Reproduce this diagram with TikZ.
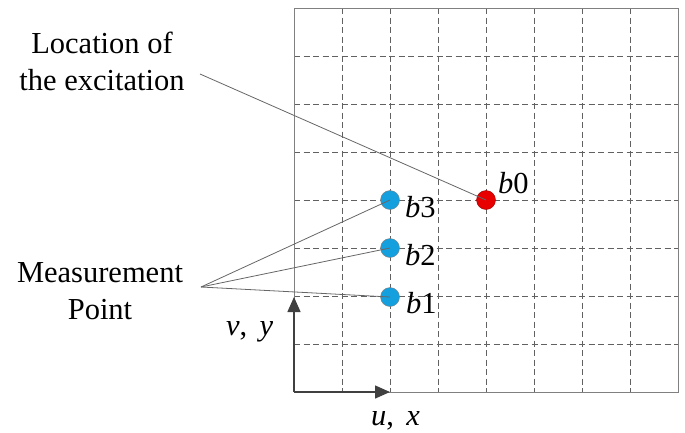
\documentclass[tikz,border=0pt]{standalone}
\usepackage{fontspec}
\setmainfont{Liberation Serif}
\usetikzlibrary{arrows.meta}

\definecolor{ptblue}{RGB}{20,160,222}
\definecolor{ptred}{RGB}{232,0,0}

\begin{document}
\begin{tikzpicture}[
    x=1bp, y=-1bp,
    >={Triangle[length=15bp, width=13bp]},
    gridln/.style={draw=black!62, line width=0.9bp, dash pattern=on 6bp off 3.5bp},
    frame/.style={draw=black!50, line width=1bp},
    axis/.style={->, draw=black!75, line width=1.4bp},
    lead/.style={draw=black!60, line width=0.8bp},
    meas/.style={circle, draw=black!50, fill=ptblue, minimum size=19bp, inner sep=0pt},
    exc/.style={circle, draw=red!60!black, fill=ptred, minimum size=19bp, inner sep=0pt},
    txt/.style={align=center, inner sep=0pt, font=\fontsize{30.5bp}{37bp}\selectfont},
    lbl/.style={anchor=base west, inner sep=0pt, font=\fontsize{30.5bp}{37bp}\selectfont},
]
  \useasboundingbox (0,0) rectangle (685,432);

  % grid of the plate
  \foreach \i in {1,...,7} {
    \draw[gridln] (294+48*\i, 8) -- (294+48*\i, 392);
    \draw[gridln] (294, 8+48*\i) -- (678, 8+48*\i);
  }
  \draw[frame] (294,8) rectangle (678,392);

  % axes
  \coordinate (o) at (294,392);
  \coordinate (vtip) at (294,297);
  \coordinate (utip) at (390,392);
  \draw[axis] (o) -- (vtip);
  \draw[axis] (o) -- (utip);
  \node[lbl] (ux) at (371,425) {\textit{u},\hspace{0.4em}\textit{x}};
  \node[lbl] (vy) at (226,335) {\textit{v},\hspace{0.4em}\textit{y}};

  % points
  \node[exc] (b0) at (486,200) {};
  \node[meas] (b3) at (390,200) {};
  \node[meas] (b2) at (390,248) {};
  \node[meas] (b1) at (390,297) {};

  \node[lbl] (t0) at (498,193) {\textit{b}0};
  \node[lbl] (t3) at (405,217) {\textit{b}3};
  \node[lbl] (t2) at (405,265) {\textit{b}2};
  \node[lbl] (t1) at (406,313) {\textit{b}1};

  % callouts
  \node[txt] (loc) at (102,61) {Location of\\the excitation};
  \node[txt] (mpt) at (100,291) {Measurement\\Point};
  \coordinate (lfoot) at (200,74);
  \coordinate (mfoot) at (201,287);

  \draw[lead] (lfoot) -- (b0.center);
  \foreach \p in {b1,b2,b3}
    \draw[lead] (mfoot) -- (\p.center);
\end{tikzpicture}
\end{document}
